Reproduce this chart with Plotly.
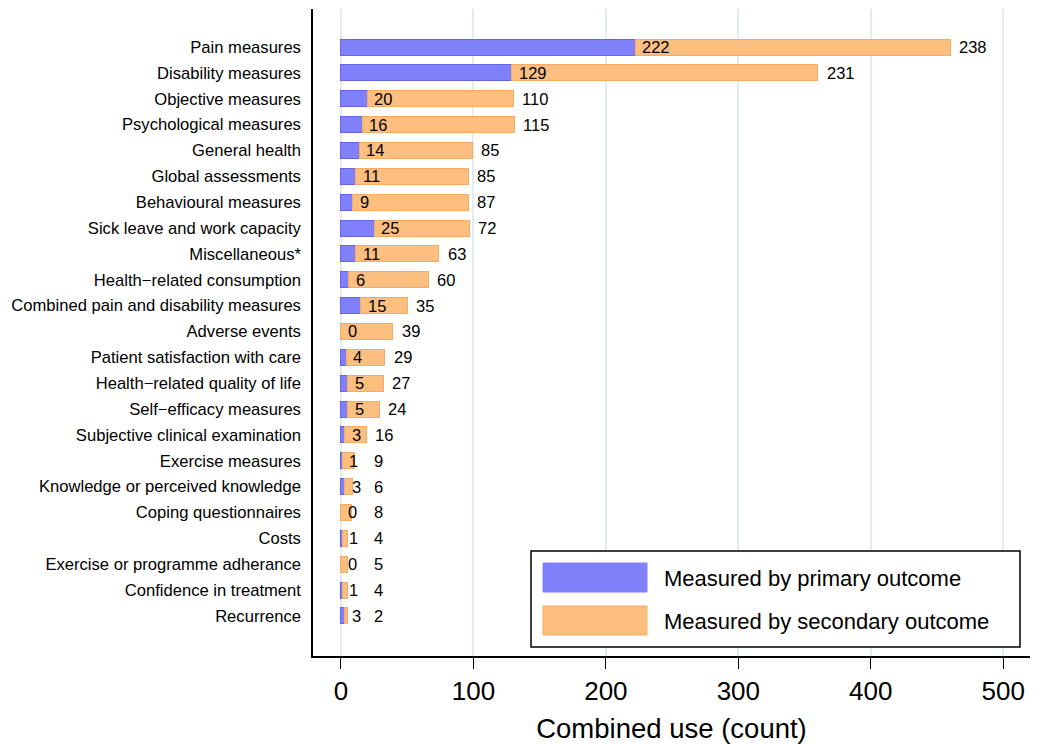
import plotly.graph_objects as go

# Outcome domains, top to bottom
categories = [
    "Pain measures", "Disability measures", "Objective measures",
    "Psychological measures", "General health", "Global assessments",
    "Behavioural measures", "Sick leave and work capacity", "Miscellaneous*",
    "Health\u2212related consumption", "Combined pain and disability measures",
    "Adverse events", "Patient satisfaction with care",
    "Health\u2212related quality of life", "Self\u2212efficacy measures",
    "Subjective clinical examination", "Exercise measures",
    "Knowledge or perceived knowledge", "Coping questionnaires", "Costs",
    "Exercise or programme adherance", "Confidence in treatment", "Recurrence",
]
primary = [222, 129, 20, 16, 14, 11, 9, 25, 11, 6, 15, 0, 4, 5, 5, 3, 1, 3, 0, 1, 0, 1, 3]
secondary = [238, 231, 110, 115, 85, 85, 87, 72, 63, 60, 35, 39, 29, 27, 24, 16, 9, 6, 8, 4, 5, 4, 2]

x_ticks = [0, 100, 200, 300, 400, 500]

BLUE = "#8080fa"
BLUE_EDGE = "#6464e6"
ORANGE = "#fdbf80"
ORANGE_EDGE = "#f7aa62"
FONT = "Liberation Sans, Arial, sans-serif"

fig = go.Figure()
fig.add_trace(go.Bar(
    y=categories, x=primary, orientation="h", name="Measured by primary outcome",
    marker=dict(color=BLUE, line=dict(color=BLUE_EDGE, width=1)),
    width=0.62, showlegend=False, hoverinfo="x+y",
))
fig.add_trace(go.Bar(
    y=categories, x=secondary, orientation="h", name="Measured by secondary outcome",
    marker=dict(color=ORANGE, line=dict(color=ORANGE_EDGE, width=1)),
    width=0.62, showlegend=False, hoverinfo="x+y",
))

annotations = []
for cat, p, s in zip(categories, primary, secondary):
    # primary count sits just right of the primary segment
    annotations.append(dict(
        x=p, y=cat, xref="x", yref="y", text=str(p), showarrow=False,
        xanchor="left", xshift=5, font=dict(size=16.5, color="black", family=FONT),
    ))
    # secondary count sits just past the end of the full bar
    annotations.append(dict(
        x=max(p + s, 18), y=cat, xref="x", yref="y", text=str(s), showarrow=False,
        xanchor="left", xshift=7, font=dict(size=16.5, color="black", family=FONT),
    ))

# Plot-area pixel frame, used to place the boxed legend
X0_PX, X1_PX = 313, 1030
Y0_PX, Y1_PX = 9, 656


def px_x(px):
    return (px - X0_PX) / (X1_PX - X0_PX)


def px_y(py):
    return 1 - (py - Y0_PX) / (Y1_PX - Y0_PX)


# Boxed legend with large swatches
shapes = [
    dict(type="rect", xref="paper", yref="paper",
         x0=px_x(531), x1=px_x(1020), y0=px_y(647), y1=px_y(551),
         line=dict(color="black", width=1.5), fillcolor="white", layer="above"),
    dict(type="rect", xref="paper", yref="paper",
         x0=px_x(543), x1=px_x(647), y0=px_y(592), y1=px_y(563),
         line=dict(color=BLUE, width=1), fillcolor=BLUE, layer="above"),
    dict(type="rect", xref="paper", yref="paper",
         x0=px_x(543), x1=px_x(647), y0=px_y(635), y1=px_y(606),
         line=dict(color=ORANGE_EDGE, width=1), fillcolor=ORANGE, layer="above"),
]
annotations += [
    dict(x=px_x(662), y=px_y(578), xref="paper", yref="paper",
         text="Measured by primary outcome", showarrow=False,
         xanchor="left", yanchor="middle",
         font=dict(size=22, color="black", family=FONT)),
    dict(x=px_x(662), y=px_y(621), xref="paper", yref="paper",
         text="Measured by secondary outcome", showarrow=False,
         xanchor="left", yanchor="middle",
         font=dict(size=22, color="black", family=FONT)),
]

fig.update_layout(
    width=1041, height=744,
    margin=dict(l=X0_PX, r=1041 - X1_PX, t=Y0_PX, b=744 - Y1_PX),
    barmode="stack",
    plot_bgcolor="white", paper_bgcolor="white",
    font=dict(family=FONT, color="black"),
    annotations=annotations, shapes=shapes,
    showlegend=False,
)
fig.update_xaxes(
    range=[-21.1, 520.2], tickvals=x_ticks, ticktext=[str(v) for v in x_ticks],
    showgrid=True, gridcolor="#e3ecec", gridwidth=2, zeroline=False,
    showline=True, linecolor="black", linewidth=1.5,
    ticks="outside", ticklen=11, tickwidth=1.2, tickcolor="black",
    tickfont=dict(size=26, family=FONT), ticklabelstandoff=0,
    title=dict(text="Combined use (count)", font=dict(size=27.5, family=FONT), standoff=16),
    automargin=False,
)
fig.update_yaxes(
    categoryorder="array", categoryarray=categories,
    range=[len(categories) - 1 + 1.55, -1.47],
    showgrid=False, zeroline=False,
    showline=True, linecolor="black", linewidth=1.5,
    ticks="", ticklabelstandoff=7,
    tickfont=dict(size=16.6, family=FONT),
    automargin=False,
)

fig.write_html("out.html")
